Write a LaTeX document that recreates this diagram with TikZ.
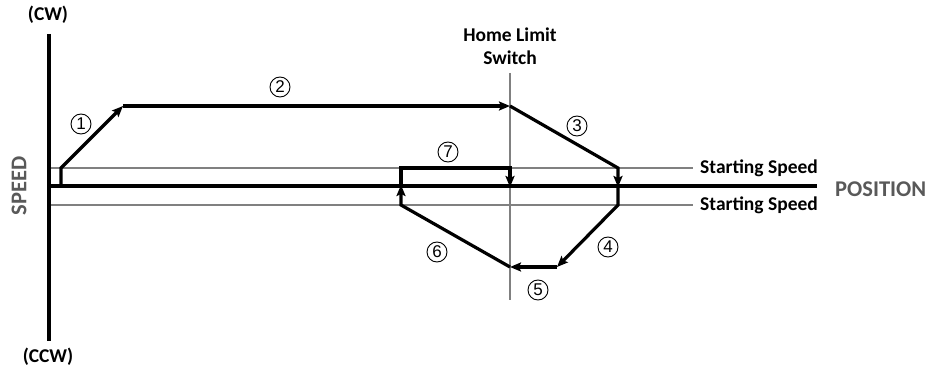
\documentclass[tikz,border=0pt]{standalone}
\usepackage{fontspec}
\setmainfont{Carlito}
\newfontfamily\numfont{Liberation Sans}
\usetikzlibrary{arrows.meta}
\definecolor{lgray}{RGB}{128,128,128}
\definecolor{tgray}{RGB}{89,89,89}
\begin{document}
\begin{tikzpicture}[x=1pt,y=-1pt,
  axis/.style={line width=3.2pt,black},
  ref/.style={line width=2.2pt,lgray},
  move/.style={line width=3.2pt,black,line join=miter,-{Stealth[length=11pt,width=9pt,inset=2pt]}},
  lbl/.style={font=\bfseries\fontsize{19.5}{23}\selectfont,inner sep=0pt},
  big/.style={font=\bfseries\fontsize{22.5}{26}\selectfont,text=tgray,inner sep=0pt},
  num/.style={circle,draw,line width=0.9pt,minimum size=20pt,inner sep=0pt,
    font=\numfont\fontsize{17}{20}\selectfont}]
\useasboundingbox (0,0) rectangle (938,369);
% reference lines
\coordinate (ssuL) at (50,168); \coordinate (ssuR) at (693,168);
\coordinate (sslL) at (50,205); \coordinate (sslR) at (693,205);
\coordinate (zeroL) at (50,186); \coordinate (zeroR) at (817,186);
\coordinate (vtop) at (49,34); \coordinate (vbot) at (49,341);
\coordinate (htop) at (510,73); \coordinate (hbot) at (510,300);
\draw[ref] (ssuL) -- (ssuR);
\draw[ref] (sslL) -- (sslR);
\draw[ref] (htop) -- (hbot);
\draw[axis] (zeroL) -- (zeroR);
\draw[axis] (vtop) -- (vbot);
% path points
\coordinate (p0) at (61,187);
\coordinate (p1) at (61,168);
\coordinate (p2) at (123,106);
\coordinate (p3) at (510,106);
\coordinate (p4) at (618,168);
\coordinate (p5) at (618,187);
\coordinate (p6) at (618,205);
\coordinate (p7) at (557,267);
\coordinate (p8) at (510,267);
\coordinate (p9) at (401,205);
\coordinate (p10) at (401,185);
\coordinate (p11) at (401,168);
\coordinate (p12) at (510,168);
\coordinate (p13) at (510,187);
\draw[move] (p0) -- (p1) -- (p2);
\draw[move] (p2) -- (p3);
\draw[move] (p3) -- (p4) -- (p5);
\draw[move] (p5) -- (p6) -- (p7);
\draw[move] (p7) -- (p8);
\draw[move] (p8) -- (p9) -- (p10);
\draw[move] (p10) -- (p11) -- (p12) -- (p13);
% step numbers
\node[num] (n1) at (81,124) {1};
\node[num] (n2) at (280,87) {2};
\node[num] (n3) at (577,126) {3};
\node[num] (n4) at (608,247) {4};
\node[num] (n5) at (538,290) {5};
\node[num] (n6) at (437,252) {6};
\node[num] (n7) at (448,152) {7};
% labels
\node[lbl] (cw) at (48,15) {(CW)};
\node[lbl] (ccw) at (48,357) {(CCW)};
\node[lbl,align=center] (home) at (510,46) {Home Limit\\Switch};
\node[lbl,anchor=west] (ssu) at (700,168) {Starting Speed};
\node[lbl,anchor=west] (ssl) at (700,205) {Starting Speed};
\node[big,anchor=west] (pos) at (835,189) {POSITION};
\node[big,rotate=90] (speed) at (19,186) {SPEED};
\end{tikzpicture}
\end{document}
